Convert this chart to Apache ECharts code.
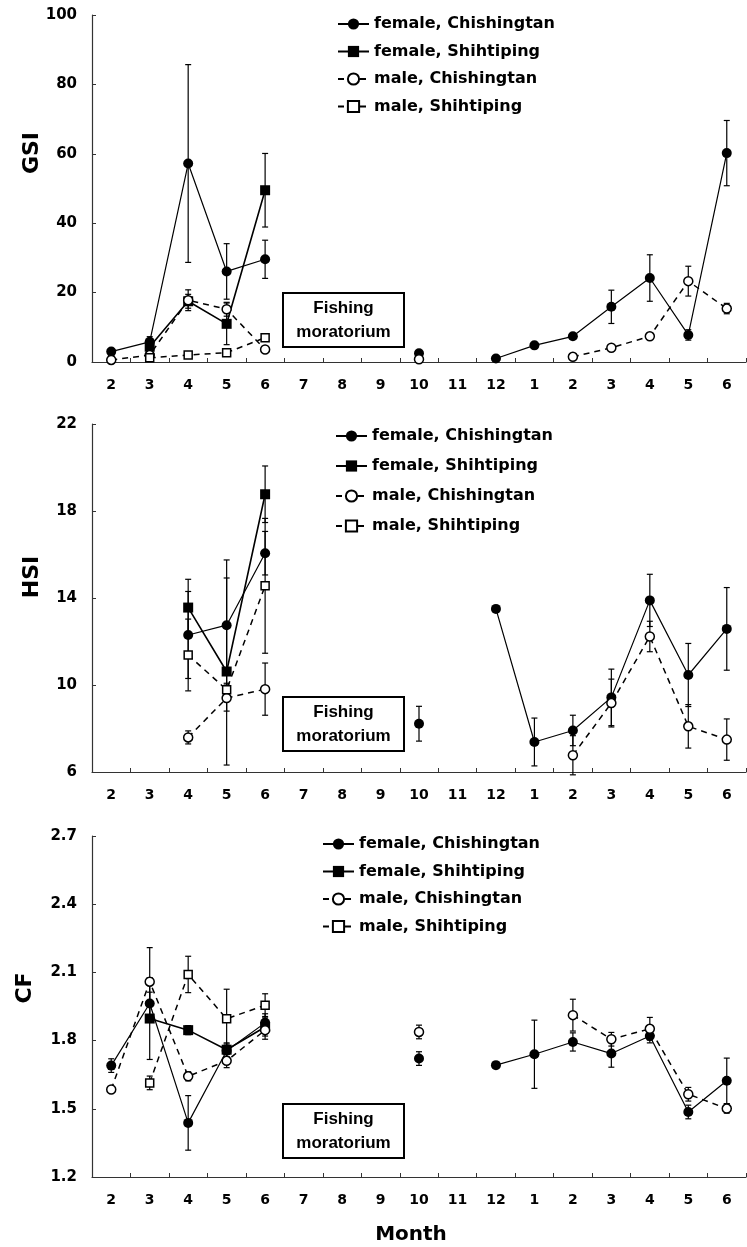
<!DOCTYPE html>
<html>
<head>
<meta charset="utf-8">
<script src="https://cdn.jsdelivr.net/npm/echarts@6/dist/echarts.min.js"></script>
<style>
html,body{margin:0;padding:0;background:#fff;}
#chart{width:747px;height:1247px;}
</style>
</head>
<body>
<div id="chart"></div>
<script>
// ---------- DATA ----------
const months = ['2','3','4','5','6','7','8','9','10','11','12','1','2','3','4','5','6'];
const seriesNames = ['female, Chishingtan','female, Shihtiping','male, Chishingtan','male, Shihtiping'];

const gsiTicks = [0, 20, 40, 60, 80, 100];
const hsiTicks = [6, 10, 14, 18, 22];
const cfTicks = [1.2, 1.5, 1.8, 2.1, 2.4, 2.7];

// GSI
const gsiFemaleChi    = [3.0, 5.8, 57.2, 26.1, 29.6, null, null, null, 2.5, null, 1.0, 4.8, 7.4, 15.9, 24.2, 7.8, 60.2];
const gsiFemaleChiErr = [0.5, 1.5, 28.5, 8.0, 5.5, null, null, null, 0, null, 0, 0.5, 0.5, 4.8, 6.7, 1.5, 9.4];
const gsiFemaleShi    = [null, 4.4, 17.5, 11.0, 49.5];
const gsiFemaleShiErr = [null, 1.5, 2.0, 6.0, 10.6];
const gsiMaleChi      = [0.6, 2.0, 17.8, 15.2, 3.6, null, null, null, 0.8, null, null, null, 1.5, 4.1, 7.4, 23.3, 15.4];
const gsiMaleChiErr   = [0, 0, 3.0, 2.0, 0.5, null, null, null, 0, null, null, null, 0, 0.5, 0.5, 4.3, 1.5];
const gsiMaleShi      = [null, 1.2, 2.0, 2.7, 7.0];
const gsiMaleShiErr   = [null, 0.5, 0.5, 0.5, 1.0];

// HSI
const hsiFemaleChi    = [null, null, 12.3, 12.75, 16.06, null, null, null, 8.22, null, 13.5, 7.38, 7.91, 9.43, 13.89, 10.46, 12.58];
const hsiFemaleChiErr = [null, null, 2.0, 3.0, 1.0, null, null, null, 0.8, null, 0, 1.1, 0.7, 1.3, 1.2, 1.45, 1.9];
const hsiFemaleShi    = [null, null, 13.56, 10.62, 18.77];
const hsiFemaleShiErr = [null, null, 1.3, 4.3, 1.3];
const hsiMaleChi      = [null, null, 7.59, 9.4, 9.81, null, null, null, null, null, null, null, 6.77, 9.17, 12.23, 8.1, 7.49];
const hsiMaleChiErr   = [null, null, 0.3, 0.6, 1.2, null, null, null, null, null, null, null, 0.9, 1.1, 0.7, 1.0, 0.95];
const hsiMaleShi      = [null, null, 11.38, 9.78, 14.56];
const hsiMaleShiErr   = [null, null, 1.65, 0.3, 3.1];

// CF
const cfFemaleChi     = [1.69, 1.963, 1.438, 1.755, 1.878, null, null, null, 1.721, null, 1.692, 1.74, 1.794, 1.743, 1.82, 1.486, 1.623];
const cfFemaleChiErr  = [0.03, 0.05, 0.12, 0.03, 0.04, null, null, null, 0.03, null, 0, 0.15, 0.04, 0.06, 0.03, 0.03, 0.1];
const cfFemaleShi     = [null, 1.897, 1.846, 1.76, 1.86];
const cfFemaleShiErr  = [null, 0.18, 0.02, 0.03, 0.04];
const cfMaleChi       = [1.585, 2.059, 1.643, 1.711, 1.846, null, null, null, 1.838, null, null, null, 1.912, 1.806, 1.852, 1.564, 1.501];
const cfMaleChiErr    = [0.01, 0.15, 0.02, 0.03, 0.04, null, null, null, 0.03, null, null, null, 0.07, 0.03, 0.05, 0.03, 0.02];
const cfMaleShi       = [null, 1.614, 2.091, 1.896, 1.956];
const cfMaleShiErr    = [null, 0.03, 0.08, 0.13, 0.05];

// ---------- BUILD ----------
function pad(arr){ const out = []; for (let i=0;i<months.length;i++) out.push(arr[i]==null?null:arr[i]); return out; }
function errData(vals, errs){
  const out = [];
  for (let i=0;i<vals.length;i++){
    if (vals[i]!=null && errs[i]!=null && errs[i]>0) out.push([i, vals[i]-errs[i], vals[i]+errs[i]]);
  }
  return out;
}
function renderErr(params, api){
  const x = api.value(0), lo = api.value(1), hi = api.value(2);
  const p1 = api.coord([x, hi]), p2 = api.coord([x, lo]);
  const w = 3;
  const st = {stroke:'#000', lineWidth:1.2};
  return {type:'group', children:[
    {type:'line', shape:{x1:p1[0],y1:p1[1],x2:p2[0],y2:p2[1]}, style:st},
    {type:'line', shape:{x1:p1[0]-w,y1:p1[1],x2:p1[0]+w,y2:p1[1]}, style:st},
    {type:'line', shape:{x1:p2[0]-w,y1:p2[1],x2:p2[0]+w,y2:p2[1]}, style:st}
  ]};
}

const FONT = 'DejaVu Sans';
const styles = [
  {symbol:'circle', symbolSize:10, dash:'solid', fill:'#000', lw:1.2},
  {symbol:'rect', symbolSize:10, dash:'solid', fill:'#000', lw:1.6},
  {symbol:'circle', symbolSize:9, dash:[6,5], fill:'#fff', lw:1.5},
  {symbol:'rect', symbolSize:8, dash:[6,5], fill:'#fff', lw:1.5}
];

const panels = [
  {vals:[gsiFemaleChi,gsiFemaleShi,gsiMaleChi,gsiMaleShi], errs:[gsiFemaleChiErr,gsiFemaleShiErr,gsiMaleChiErr,gsiMaleShiErr], ticks:gsiTicks, dec:0,
   grid:{left:92, top:15, width:654, height:347}, legend:{left:337, top:16, gap:11.5}, box:292, name:'GSI', nameY:153, nameX:32},
  {vals:[hsiFemaleChi,hsiFemaleShi,hsiMaleChi,hsiMaleShi], errs:[hsiFemaleChiErr,hsiFemaleShiErr,hsiMaleChiErr,hsiMaleShiErr], ticks:hsiTicks, dec:0,
   grid:{left:92, top:424, width:654, height:348}, legend:{left:335, top:428, gap:14}, box:696, name:'HSI', nameY:577, nameX:32},
  {vals:[cfFemaleChi,cfFemaleShi,cfMaleChi,cfMaleShi], errs:[cfFemaleChiErr,cfFemaleShiErr,cfMaleChiErr,cfMaleShiErr], ticks:cfTicks, dec:1,
   grid:{left:92, top:836, width:654, height:341}, legend:{left:322, top:836, gap:11.5}, box:1103, name:'CF', nameY:988, nameX:25}
];

const grid=[], xAxis=[], yAxis=[], series=[], legend=[], graphic=[];
panels.forEach((p, k) => {
  grid.push(Object.assign({containLabel:false}, p.grid));
  xAxis.push({
    type:'category', gridIndex:k, data:months, boundaryGap:true,
    axisLine:{lineStyle:{color:'#333', width:1.2}},
    axisTick:{show:true, inside:true, length:4, alignWithLabel:false, lineStyle:{color:'#333'}},
    axisLabel:{interval:0, margin:16, color:'#000', fontFamily:FONT, fontWeight:'bold', fontSize:14},
    splitLine:{show:false}
  });
  yAxis.push({
    type:'value', gridIndex:k, min:p.ticks[0], max:p.ticks[p.ticks.length-1],
    axisLine:{show:true, lineStyle:{color:'#333', width:1.2}},
    axisTick:{show:true, inside:true, length:4, customValues:p.ticks, lineStyle:{color:'#333'}},
    axisLabel:{customValues:p.ticks, margin:15, color:'#000', fontFamily:FONT, fontWeight:'bold', fontSize:15,
      formatter: v => Number(v).toFixed(p.dec)},
    splitLine:{show:false}
  });
  // error bars first
  p.vals.forEach((vals, s) => {
    series.push({
      type:'custom', name:'err'+k+'_'+s, xAxisIndex:k, yAxisIndex:k,
      renderItem:renderErr, data:errData(vals, p.errs[s]), encode:{x:0, y:[1,2]}, silent:true, z:1
    });
  });
  p.vals.forEach((vals, s) => {
    const st = styles[s];
    series.push({
      type:'line', name:seriesNames[s], xAxisIndex:k, yAxisIndex:k, data:pad(vals),
      connectNulls:false, showSymbol:true, showAllSymbol:true,
      symbol:st.symbol, symbolSize:st.symbolSize,
      lineStyle:{color:'#000', width:st.lw, type:st.dash},
      itemStyle:{color:st.fill, borderColor:'#000', borderWidth: st.fill==='#fff'?1.5:0},
      z:3
    });
  });
  legend.push({
    orient:'vertical', left:p.legend.left, top:p.legend.top, padding:0,
    itemWidth:31, itemHeight:14, itemGap:p.legend.gap,
    data:seriesNames,
    textStyle:{color:'#000', fontFamily:FONT, fontWeight:'bold', fontSize:16},
    selectedMode:false
  });
  // Fishing moratorium box
  graphic.push({
    type:'group', left:282, top:p.box, children:[
      {type:'rect', shape:{x:0,y:0,width:121,height:54}, style:{fill:'#fff', stroke:'#000', lineWidth:2}},
      {type:'text', x:60.5, y:15, style:{text:'Fishing', fill:'#000', font:'bold 17px "Liberation Sans"', align:'center', verticalAlign:'middle'}},
      {type:'text', x:60.5, y:39, style:{text:'moratorium', fill:'#000', font:'bold 17px "Liberation Sans"', align:'center', verticalAlign:'middle'}}
    ]
  });
  // y title
  graphic.push({
    type:'text', x:p.nameX, y:p.nameY, rotation:Math.PI/2,
    style:{text:p.name, fill:'#000', font:'bold 22px "DejaVu Sans"', align:'center', verticalAlign:'middle'}
  });
});
graphic.push({type:'text', x:411, y:1235, style:{text:'Month', fill:'#000', font:'bold 20px "DejaVu Sans"', align:'center', verticalAlign:'middle'}});

const chart = echarts.init(document.getElementById('chart'), null, {renderer:'canvas'});
chart.setOption({
  animation:false, backgroundColor:'#fff',
  grid, xAxis, yAxis, series, legend, graphic
});
</script>
</body>
</html>
